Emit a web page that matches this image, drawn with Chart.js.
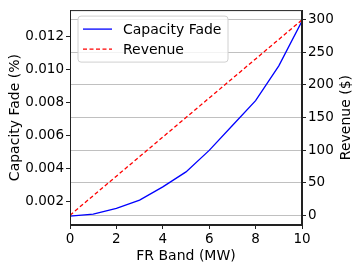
<!DOCTYPE html>
<html>
<head>
<meta charset="utf-8">
<script src="https://cdn.jsdelivr.net/npm/chart.js@4.4.0/dist/chart.umd.min.js"></script>
<style>
  html, body { margin: 0; padding: 0; background: #fff; }
  #chart { display: block; }
</style>
</head>
<body>
<canvas id="chart" width="360" height="270"></canvas>
<script>
  // FR band (MW)
  const bands = [0, 1, 2, 3, 4, 5, 6, 7, 8, 9, 10];
  // capacity fade (%)
  const capacityFade = [0.00109, 0.00121, 0.00156, 0.00206, 0.00287, 0.00378, 0.00509, 0.00661, 0.00812, 0.01024, 0.01297];
  // revenue ($), red dashed line
  const revenue = [0, 30, 60, 90, 120, 150, 180, 210, 240, 270, 300];

  const FONT = "'DejaVu Sans', sans-serif";
  const rightTitle = 'Revenue ($)';

  const toPoints = vals => bands.map((b, i) => ({ x: b, y: vals[i] }));

  // legend box inside the plot, spines, right axis title (reads bottom to top)
  const framePlugin = {
    id: 'frame',
    afterDraw(chart) {
      const ctx = chart.ctx;
      const a = chart.chartArea;
      ctx.save();

      // legend
      const bx = a.left + 8, by = a.top + 6, bw = 150, bh = 46;
      ctx.beginPath();
      ctx.roundRect(bx, by, bw, bh, 3);
      ctx.fillStyle = 'rgba(255,255,255,0.8)';
      ctx.fill();
      ctx.strokeStyle = '#d0d0d0';
      ctx.lineWidth = 1;
      ctx.stroke();

      chart.data.datasets.forEach((ds, i) => {
        const y = by + 13 + i * 20;
        ctx.beginPath();
        ctx.setLineDash(ds.borderDash || []);
        ctx.strokeStyle = ds.borderColor;
        ctx.lineWidth = ds.borderWidth;
        ctx.moveTo(bx + 5, y);
        ctx.lineTo(bx + 34, y);
        ctx.stroke();
        ctx.setLineDash([]);
        ctx.fillStyle = '#000';
        ctx.font = '14px ' + FONT;
        ctx.textBaseline = 'middle';
        ctx.fillText(ds.label, bx + 45, y + 1);
      });

      // spines
      ctx.strokeStyle = '#222';
      ctx.lineWidth = 1;
      ctx.strokeRect(a.left + 0.5, a.top + 0.5, a.right - a.left - 1, a.bottom - a.top - 1);

      // right title
      const s = chart.scales.y1;
      ctx.translate(s.right - 14, (a.top + a.bottom) / 2);
      ctx.rotate(-Math.PI / 2);
      ctx.font = '14px ' + FONT;
      ctx.fillStyle = '#000';
      ctx.textAlign = 'center';
      ctx.textBaseline = 'middle';
      ctx.fillText(rightTitle, 0, 0);
      ctx.restore();
    }
  };

  new Chart(document.getElementById('chart'), {
    type: 'line',
    data: {
      datasets: [
        {
          label: 'Capacity Fade',
          data: toPoints(capacityFade),
          yAxisID: 'y',
          borderColor: '#0000ff',
          borderWidth: 1.3,
          pointRadius: 0,
          tension: 0,
          order: 1
        },
        {
          label: 'Revenue',
          data: toPoints(revenue),
          yAxisID: 'y1',
          borderColor: '#ff0000',
          borderWidth: 1.3,
          borderDash: [4, 2.5],
          pointRadius: 0,
          tension: 0,
          order: 0
        }
      ]
    },
    options: {
      responsive: false,
      devicePixelRatio: 1,
      animation: false,
      layout: { padding: { top: 9, left: 0, right: 0, bottom: 0 } },
      plugins: { legend: { display: false }, tooltip: { enabled: false } },
      scales: {
        x: {
          type: 'linear',
          min: 0,
          max: 10,
          afterFit: s => { s.height = 45; },
          grid: { drawOnChartArea: false, tickLength: 4, tickColor: '#222' },
          border: { color: '#222' },
          ticks: { stepSize: 2, color: '#000', padding: 2, font: { family: FONT, size: 13.5 } },
          title: { display: true, text: 'FR Band (MW)', color: '#000', padding: { top: 0, bottom: 5 }, font: { family: FONT, size: 14 } }
        },
        y: {
          position: 'left',
          min: 0.000545,
          max: 0.013636,
          afterFit: s => { s.width = 70; },
          grid: { drawOnChartArea: false, tickLength: 4, tickColor: '#222' },
          border: { color: '#222' },
          ticks: {
            stepSize: 0.002,
            includeBounds: false,
            color: '#000',
            padding: 2,
            font: { family: FONT, size: 13.5 },
            callback: v => v.toFixed(3)
          },
          title: { display: true, text: 'Capacity Fade (%)', color: '#000', padding: { top: 7, bottom: 0 }, font: { family: FONT, size: 14 } }
        },
        y1: {
          position: 'right',
          min: -15,
          max: 315,
          afterFit: s => { s.width = 58; },
          grid: { drawOnChartArea: true, color: '#c0c0c0', lineWidth: 1, tickLength: 4, tickColor: '#222' },
          border: { color: '#222' },
          ticks: { stepSize: 50, includeBounds: false, color: '#000', padding: 2, font: { family: FONT, size: 13.5 } },
          title: { display: false }
        }
      }
    },
    plugins: [framePlugin]
  });
</script>
</body>
</html>
